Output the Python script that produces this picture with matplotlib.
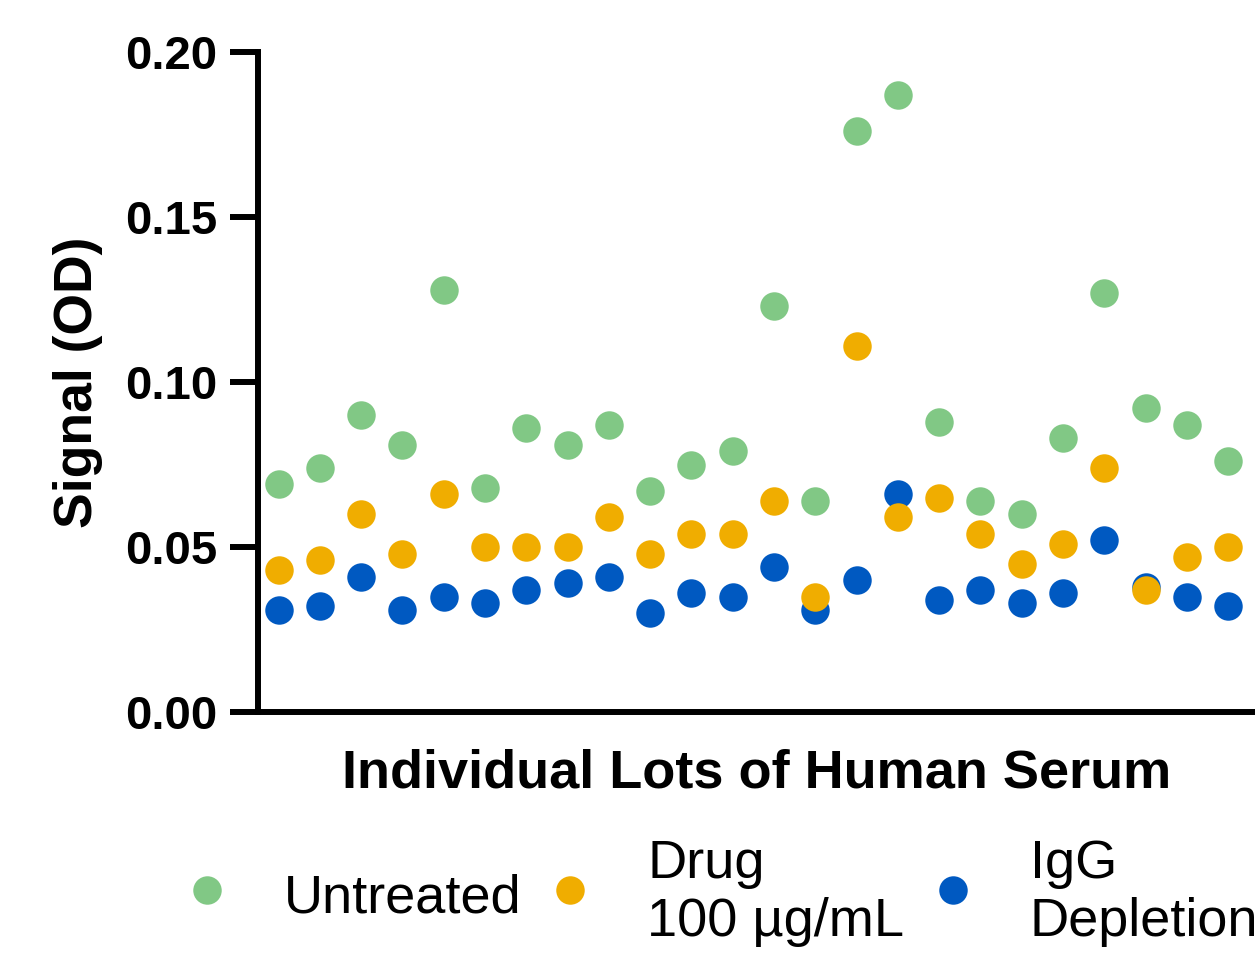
import matplotlib
matplotlib.use("Agg")
import matplotlib.pyplot as plt

plt.rcParams['font.family'] = ['Liberation Sans', 'DejaVu Sans']

# one value per serum lot
lots = list(range(1, 25))
untreated = [0.069, 0.074, 0.090, 0.081, 0.128, 0.068, 0.086, 0.081, 0.087, 0.067,
             0.075, 0.079, 0.123, 0.064, 0.176, 0.187, 0.088, 0.064, 0.060, 0.083,
             0.127, 0.092, 0.087, 0.076]
drug = [0.043, 0.046, 0.060, 0.048, 0.066, 0.050, 0.050, 0.050, 0.059, 0.048,
        0.054, 0.054, 0.064, 0.035, 0.111, 0.059, 0.065, 0.054, 0.045, 0.051,
        0.074, 0.037, 0.047, 0.050]
igg = [0.031, 0.032, 0.041, 0.031, 0.035, 0.033, 0.037, 0.039, 0.041, 0.030,
       0.036, 0.035, 0.044, 0.031, 0.040, 0.066, 0.034, 0.037, 0.033, 0.036,
       0.052, 0.038, 0.035, 0.032]
labels = ["Untreated", "Drug\n100 µg/mL", "IgG\nDepletion"]
colors = ["#81C885", "#F0AD00", "#0059C1"]

fig = plt.figure(figsize=(12.55, 9.6), dpi=100)
ax = fig.add_axes([258 / 1255, 1 - 712 / 960, 1 - 258 / 1255, (712 - 52) / 960])

ms = 420
h_un = ax.scatter(lots, untreated, s=ms, color=colors[0], lw=0, zorder=3, clip_on=False)
h_ig = ax.scatter(lots, igg, s=ms, color=colors[2], lw=0, zorder=3, clip_on=False)
h_dr = ax.scatter(lots, drug, s=ms, color=colors[1], lw=0, zorder=4, clip_on=False)

ax.set_xlim(0.5, 24.65)
ax.set_ylim(0, 0.20)
ax.set_yticks([0, 0.05, 0.10, 0.15, 0.20])
ax.set_yticklabels(["0.00", "0.05", "0.10", "0.15", "0.20"])
ax.set_xticks([])

for s in ['top', 'right']:
    ax.spines[s].set_visible(False)
for s in ['left', 'bottom']:
    ax.spines[s].set_linewidth(4.3)
ax.tick_params(axis='y', length=20, width=4.3, pad=9, labelsize=34)
for t in ax.get_yticklabels():
    t.set_fontweight('bold')

ax.set_ylabel("Signal (OD)", fontsize=38.5, fontweight='bold', labelpad=16)
ax.set_xlabel("Individual Lots of Human Serum", fontsize=39, fontweight='bold', labelpad=26)

fig.legend([h_un, h_dr, h_ig], labels, ncol=3, frameon=False,
           loc='center left', bbox_to_anchor=(180 / 1255, 1 - 893 / 960),
           fontsize=39, handlelength=1.0, handletextpad=0.92, columnspacing=0.4,
           borderpad=0, borderaxespad=0, scatterpoints=1, scatteryoffsets=[0.59])

fig.savefig("out.png", dpi=100)
